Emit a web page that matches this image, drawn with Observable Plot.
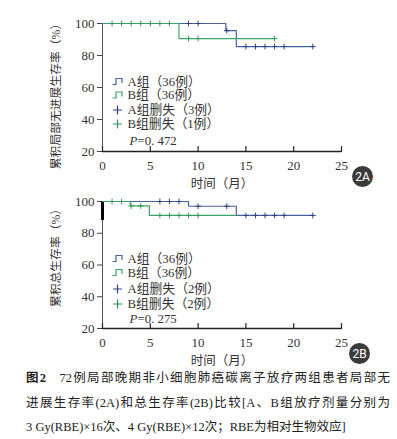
<!DOCTYPE html>
<html><head><meta charset="utf-8">
<script src="https://cdn.jsdelivr.net/npm/d3@7"></script>
<script src="https://cdn.jsdelivr.net/npm/@observablehq/plot@0.6"></script>
<style>
html,body{margin:0;padding:0;background:#fff;}
body{width:397px;height:439px;overflow:hidden;position:relative;font-family:"Liberation Serif","Noto Sans CJK SC",serif;}
#chart svg{display:block;}
#caption{position:absolute;left:26px;top:366px;width:364px;font-size:12.5px;line-height:24.5px;color:#222;font-family:"Liberation Serif","Noto Sans CJK SC",serif;}
#caption .ln{display:block;text-align:justify;text-align-last:justify;white-space:nowrap;}
#caption .ln.last{text-align-last:left;}
</style></head><body>
<div id="chart"></div>
<div id="caption">
<span class="ln"><b>图2</b>&nbsp;&nbsp;&nbsp;72例局部晚期非小细胞肺癌碳离子放疗两组患者局部无</span>
<span class="ln">进展生存率(2A)和总生存率(2B)比较[A、B组放疗剂量分别为</span>
<span class="ln last">3 Gy(RBE)×16次、4 Gy(RBE)×12次；RBE为相对生物效应]</span>
</div>
<script>
// ---- tick labels ----
const xTicks = [0, 5, 10, 15, 20, 25];
const yTicks = [20, 40, 60, 80, 100];

// ---- Panel 2A: local progression-free survival ----
const pfsA_time = [0, 12.9, 14, 22];
const pfsA_surv = [100, 95.5, 85.6, 85.6];
const pfsB_time = [0, 8, 18];
const pfsB_surv = [100, 90.6, 90.6];
const pfsA_censTime = [9, 10, 13, 15, 16, 17, 18, 19, 22];
const pfsA_censSurv = [100, 100, 95.5, 85.6, 85.6, 85.6, 85.6, 85.6, 85.6];
const pfsB_censTime = [1, 2, 3, 4, 5, 6, 7, 9, 10, 18];
const pfsB_censSurv = [100, 100, 100, 100, 100, 100, 100, 90.6, 90.6, 90.6];
const pfsLegend = ["A组（36例）", "B组（36例）", "A组删失（3例）", "B组删失（1例）"];
const pfsP = "=0. 472";

// ---- Panel 2B: overall survival ----
const osA_time = [0, 9, 14, 22];
const osA_surv = [100, 97, 91.2, 91.2];
const osB_time = [0, 2.9, 4.9, 14];
const osB_surv = [100, 97.2, 91.2, 91.2];
const osA_censTime = [6, 7, 8, 10, 13, 15, 16, 17, 18, 19, 22];
const osA_censSurv = [100, 100, 100, 97, 97, 91.2, 91.2, 91.2, 91.2, 91.2, 91.2];
const osB_censTime = [1, 2, 3, 4, 6, 7, 8, 9, 10];
const osB_censSurv = [100, 100, 97.2, 97.2, 91.2, 91.2, 91.2, 91.2, 91.2];
const osLegend = ["A组（36例）", "B组（36例）", "A组删失（2例）", "B组删失（2例）"];
const osP = "=0. 275";
const osBarY = [88, 100];

const xLabel = "时间（月）";
const yLabelA = "累积局部无进展生存率（%）";
const yLabelB = "累积总生存率（%）";

const BLUE = "#46639f", GREEN = "#3aa36a", BLUE_D = "#2d4283", GREEN_D = "#2f9a5c";
const FONT = "'Liberation Serif','Noto Sans CJK SC',serif";

const stepSymbol = {draw(ctx) {
  ctx.moveTo(-5, 3); ctx.lineTo(-1.5, 3); ctx.lineTo(-1.5, -3); ctx.lineTo(4.5, -3); ctx.lineTo(4.5, 1.5);
}};
const tickShape = {draw(ctx, l) { ctx.moveTo(0, 0); ctx.lineTo(0, -l); }};

function panel(o) {
  const A = o.aTime.map((t, i) => ({t, s: o.aSurv[i]}));
  const B = o.bTime.map((t, i) => ({t, s: o.bSurv[i]}));
  const cA = o.caT.map((t, i) => ({t, s: o.caS[i]}));
  const cB = o.cbT.map((t, i) => ({t, s: o.cbS[i]}));
  const rows = o.rows;
  const legendMarks = [];
  const symbols = [
    {sym: stepSymbol, c: BLUE}, {sym: stepSymbol, c: GREEN},
    {sym: "plus", c: BLUE_D}, {sym: "plus", c: GREEN_D}
  ];
  o.legend.forEach((lab, i) => {
    legendMarks.push(Plot.dot([lab], {frameAnchor: "top-left", dx: 15, dy: rows[i], symbol: symbols[i].sym, r: 3, stroke: symbols[i].c, fill: "none", strokeWidth: 1.2}));
    legendMarks.push(Plot.text([lab], {text: d => d, frameAnchor: "top-left", dx: 25, dy: rows[i], textAnchor: "start", lineAnchor: "middle", fontSize: 12.8, fill: "#333"}));
  });
  legendMarks.push(Plot.text(["P"], {text: d => d, frameAnchor: "top-left", dx: 27, dy: rows[4], textAnchor: "start", lineAnchor: "middle", fontSize: 12.8, fontStyle: "italic", fill: "#333"}));
  legendMarks.push(Plot.text([o.p], {text: d => d, frameAnchor: "top-left", dx: 35, dy: rows[4], textAnchor: "start", lineAnchor: "middle", fontSize: 12.8, fill: "#333"}));

  return Plot.plot({
    width: 397, height: o.height,
    marginLeft: 102, marginRight: 56, marginTop: o.mt, marginBottom: o.mb,
    style: {fontFamily: FONT, background: "#fff", color: "#333", overflow: "visible"},
    x: {domain: [0, 25]},
    y: {domain: [20, 100]},
    marks: [
      Plot.ruleX([0], {y1: 20, y2: 100, stroke: "#555", strokeWidth: 1}),
      Plot.ruleY([20], {stroke: "#222", strokeWidth: 1.3}),
      Plot.axisY(yTicks, {tickSize: 5, tickPadding: 3, fontSize: 13, label: null, stroke: "#444"}),
      Plot.axisX(xTicks, {tickSize: 0, tickPadding: 9.5, fontSize: 13, label: null}),
      Plot.vector(xTicks, {x: d => d, frameAnchor: "bottom", length: 5, rotate: 0, anchor: "start", shape: tickShape, stroke: "#222", strokeWidth: 1.2}),
      Plot.text([o.ylabel], {text: d => d, frameAnchor: "left", textAnchor: "middle", lineAnchor: "middle", dx: -46, dy: o.ylabDy, rotate: -90, fontSize: 11.8, fill: "#333"}),
      Plot.text([xLabel], {text: d => d, frameAnchor: "bottom", textAnchor: "middle", lineAnchor: "middle", dy: 32, fontSize: 12.5, fill: "#333"}),
      ...(o.bar ? [Plot.ruleX([0], {y1: o.bar[0], y2: o.bar[1], stroke: "#000", strokeWidth: 3})] : []),
      Plot.line(A, {x: "t", y: "s", curve: "step-after", stroke: BLUE, strokeWidth: 1.2}),
      Plot.line(B, {x: "t", y: "s", curve: "step-after", stroke: GREEN, strokeWidth: 1.2}),
      Plot.dot(cA, {x: "t", y: "s", symbol: "plus", r: 2, stroke: BLUE_D, strokeWidth: 1}),
      Plot.dot(cB, {x: "t", y: "s", symbol: "plus", r: 2, stroke: GREEN_D, strokeWidth: 1}),
      ...legendMarks,
      Plot.dot([o.badge], {frameAnchor: "bottom-right", dx: o.bdx, dy: 25, r: 10.5, fill: "#3b3b3b"}),
      Plot.text([o.badge], {text: d => d, frameAnchor: "bottom-right", textAnchor: "middle", lineAnchor: "middle", dx: o.bdx, dy: 25.5, fill: "#fff", fontSize: 12, fontFamily: "Roboto, 'DejaVu Sans', sans-serif"})
    ]
  });
}

const chart = document.getElementById("chart");
chart.append(panel({
  height: 195, mt: 23, mb: 44,
  aTime: pfsA_time, aSurv: pfsA_surv, bTime: pfsB_time, bSurv: pfsB_surv,
  caT: pfsA_censTime, caS: pfsA_censSurv, cbT: pfsB_censTime, cbS: pfsB_censSurv,
  legend: pfsLegend, p: pfsP, rows: [58, 71.5, 86.5, 100.5, 117], ylabel: yLabelA, ylabDy: 6,
  badge: "2A", bdx: 21
}));
chart.append(panel({
  height: 171, mt: 6, mb: 38,
  aTime: osA_time, aSurv: osA_surv, bTime: osB_time, bSurv: osB_surv,
  caT: osA_censTime, caS: osA_censSurv, cbT: osB_censTime, cbS: osB_censSurv,
  legend: osLegend, p: osP, rows: [57, 71, 87.5, 102.5, 117], ylabel: yLabelB, ylabDy: -10,
  badge: "2B", bdx: 18, bar: osBarY
}));
</script>
</body></html>
